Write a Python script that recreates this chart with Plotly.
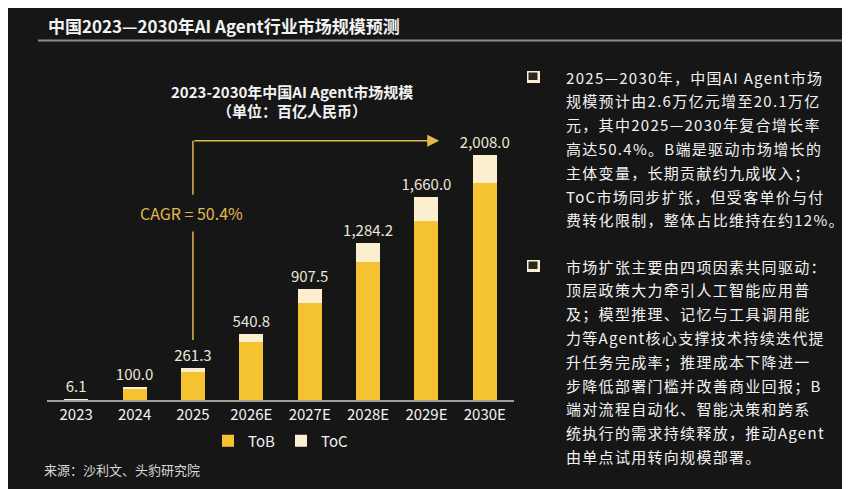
import plotly.graph_objects as go

# data (unit: 百亿人民币)
years = ['2023', '2024', '2025', '2026E', '2027E', '2028E', '2029E', '2030E']
tob = [5.4, 92.0, 229.9, 476.0, 797.8, 1131.0, 1469.0, 1778.0]
toc = [0.7, 8.0, 31.4, 64.8, 109.7, 153.2, 191.0, 230.0]
totals = [6.1, 100.0, 261.3, 540.8, 907.5, 1284.2, 1660.0, 2008.0]
cagr_label = 'CAGR = 50.4%'

page_title = '中国2023—2030年AI Agent行业市场规模预测'
chart_title = '2023-2030年中国AI Agent市场规模'
chart_unit = '（单位：百亿人民币）'
source = '来源：沙利文、头豹研究院'

para1 = ['2025—2030年，中国AI Agent市场',
         '规模预计由2.6万亿元增至20.1万亿',
         '元，其中2025—2030年复合增长率',
         '高达50.4%。B端是驱动市场增长的',
         '主体变量，长期贡献约九成收入；',
         'ToC市场同步扩张，但受客单价与付',
         '费转化限制，整体占比维持在约12%。']
para2 = ['市场扩张主要由四项因素共同驱动：',
         '顶层政策大力牵引人工智能应用普',
         '及；模型推理、记忆与工具调用能',
         '力等Agent核心支撑技术持续迭代提',
         '升任务完成率；推理成本下降进一',
         '步降低部署门槛并改善商业回报；B',
         '端对流程自动化、智能决策和跨系',
         '统执行的需求持续释放，推动Agent',
         '由单点试用转向规模部署。']

BG = '#161616'
YELLOW = '#F5C332'
CREAM = '#FCEFCF'
GOLD = '#E3B84E'
TEXT = '#F2F2F2'
FONT = 'Noto Sans CJK SC'

W, H = 850, 489
ML, MR, MT, MB = 39, 344, 110, 97


def px(x):
    return (x - ML) / (W - ML - MR)


def py(y):
    return (H - MB - y) / (H - MT - MB)


fig = go.Figure()
fig.add_trace(go.Bar(x=years, y=tob, name='ToB', marker_color=YELLOW,
                     marker_line_width=0))
fig.add_trace(go.Bar(x=years, y=toc, name='ToC', marker_color=CREAM,
                     marker_line_width=0, customdata=totals,
                     texttemplate='%{customdata:,.1f}', textposition='outside',
                     textfont=dict(size=15, color='#EDE7D9', family=FONT),
                     constraintext='none', cliponaxis=False))

annotations = []
shapes = []

# CAGR bracket: vertical line from 2025 up, then arrow across to 2030E
arrow_y = max(totals) * 1.057
low_y = totals[2] + 230
gap_top, gap_bot = 1680, 1380
shapes.append(dict(type='line', xref='x', yref='y', x0=2, x1=2, y0=low_y, y1=gap_bot,
                   line=dict(color=GOLD, width=1.5)))
shapes.append(dict(type='line', xref='x', yref='y', x0=2, x1=2, y0=gap_top, y1=arrow_y,
                   line=dict(color=GOLD, width=1.5)))
annotations.append(dict(x=6.22, y=arrow_y, xref='x', yref='y', ax=2, ay=arrow_y,
                        axref='x', ayref='y', text='', showarrow=True, arrowhead=2,
                        arrowsize=1.6, arrowwidth=1.5, arrowcolor=GOLD))
annotations.append(dict(x=1.97, y=(gap_top + gap_bot) / 2, xref='x', yref='y',
                        text=cagr_label, showarrow=False,
                        font=dict(size=16, color=GOLD, family=FONT)))

# page header
annotations.append(dict(x=px(38), y=py(17), xref='paper', yref='paper', xanchor='left',
                        yanchor='middle', text='<b>' + page_title + '</b>', showarrow=False,
                        font=dict(size=17, color=TEXT, family=FONT)))
shapes.append(dict(type='line', xref='paper', yref='paper', x0=px(30), x1=px(850),
                   y0=py(32.5), y1=py(32.5), line=dict(color='#8C8C8C', width=2)))

# chart title
annotations.append(dict(x=px(284), y=py(71), xref='paper', yref='paper',
                        text='<b>' + chart_title + '</b>', showarrow=False,
                        font=dict(size=15, color=TEXT, family=FONT)))
annotations.append(dict(x=px(284), y=py(90), xref='paper', yref='paper',
                        text='<b>' + chart_unit + '</b>', showarrow=False,
                        font=dict(size=15, color=TEXT, family=FONT)))

# source
annotations.append(dict(x=px(34), y=py(473), xref='paper', yref='paper', xanchor='left',
                        text=source, showarrow=False,
                        font=dict(size=13, color='#D8D8D8', family=FONT)))

# right-hand commentary
for start, lines in [(69, para1), (258, para2)]:
    y0 = start - 6
    shapes.append(dict(type='rect', xref='paper', yref='paper', x0=px(519), x1=px(532),
                       y0=py(y0), y1=py(y0 + 12), fillcolor=CREAM, line_width=0))
    shapes.append(dict(type='rect', xref='paper', yref='paper', x0=px(520.5), x1=px(529.5),
                       y0=py(y0 + 1.5), y1=py(y0 + 9), fillcolor='#2A2620', line_width=0))
    for i, line in enumerate(lines):
        annotations.append(dict(x=px(556), y=py(start + i * 23.8), xref='paper', yref='paper',
                                xanchor='left', yanchor='middle', showarrow=False,
                                text='<span style="letter-spacing:1.3px">' + line + '</span>',
                                font=dict(size=15, color=TEXT, family=FONT)))

fig.update_layout(
    width=W, height=H,
    margin=dict(l=ML, r=MR, t=MT, b=MB),
    paper_bgcolor=BG, plot_bgcolor=BG,
    barmode='stack', bargap=0.59,
    font=dict(family=FONT, color=TEXT),
    showlegend=True,
    legend=dict(orientation='h', x=px(200), y=py(433), xanchor='left', yanchor='middle',
                traceorder='normal',
                font=dict(size=15, color=TEXT, family=FONT), bgcolor='rgba(0,0,0,0)',
                entrywidth=28, itemwidth=30),
    annotations=annotations,
    shapes=shapes,
)
fig.update_xaxes(showline=True, linecolor='#A0A0A0', linewidth=2, ticks='',
                 tickfont=dict(size=15, color=TEXT, family=FONT), showgrid=False)
fig.update_yaxes(range=[0, 2308], visible=False, showgrid=False, zeroline=False)

fig.write_html('out.html')
